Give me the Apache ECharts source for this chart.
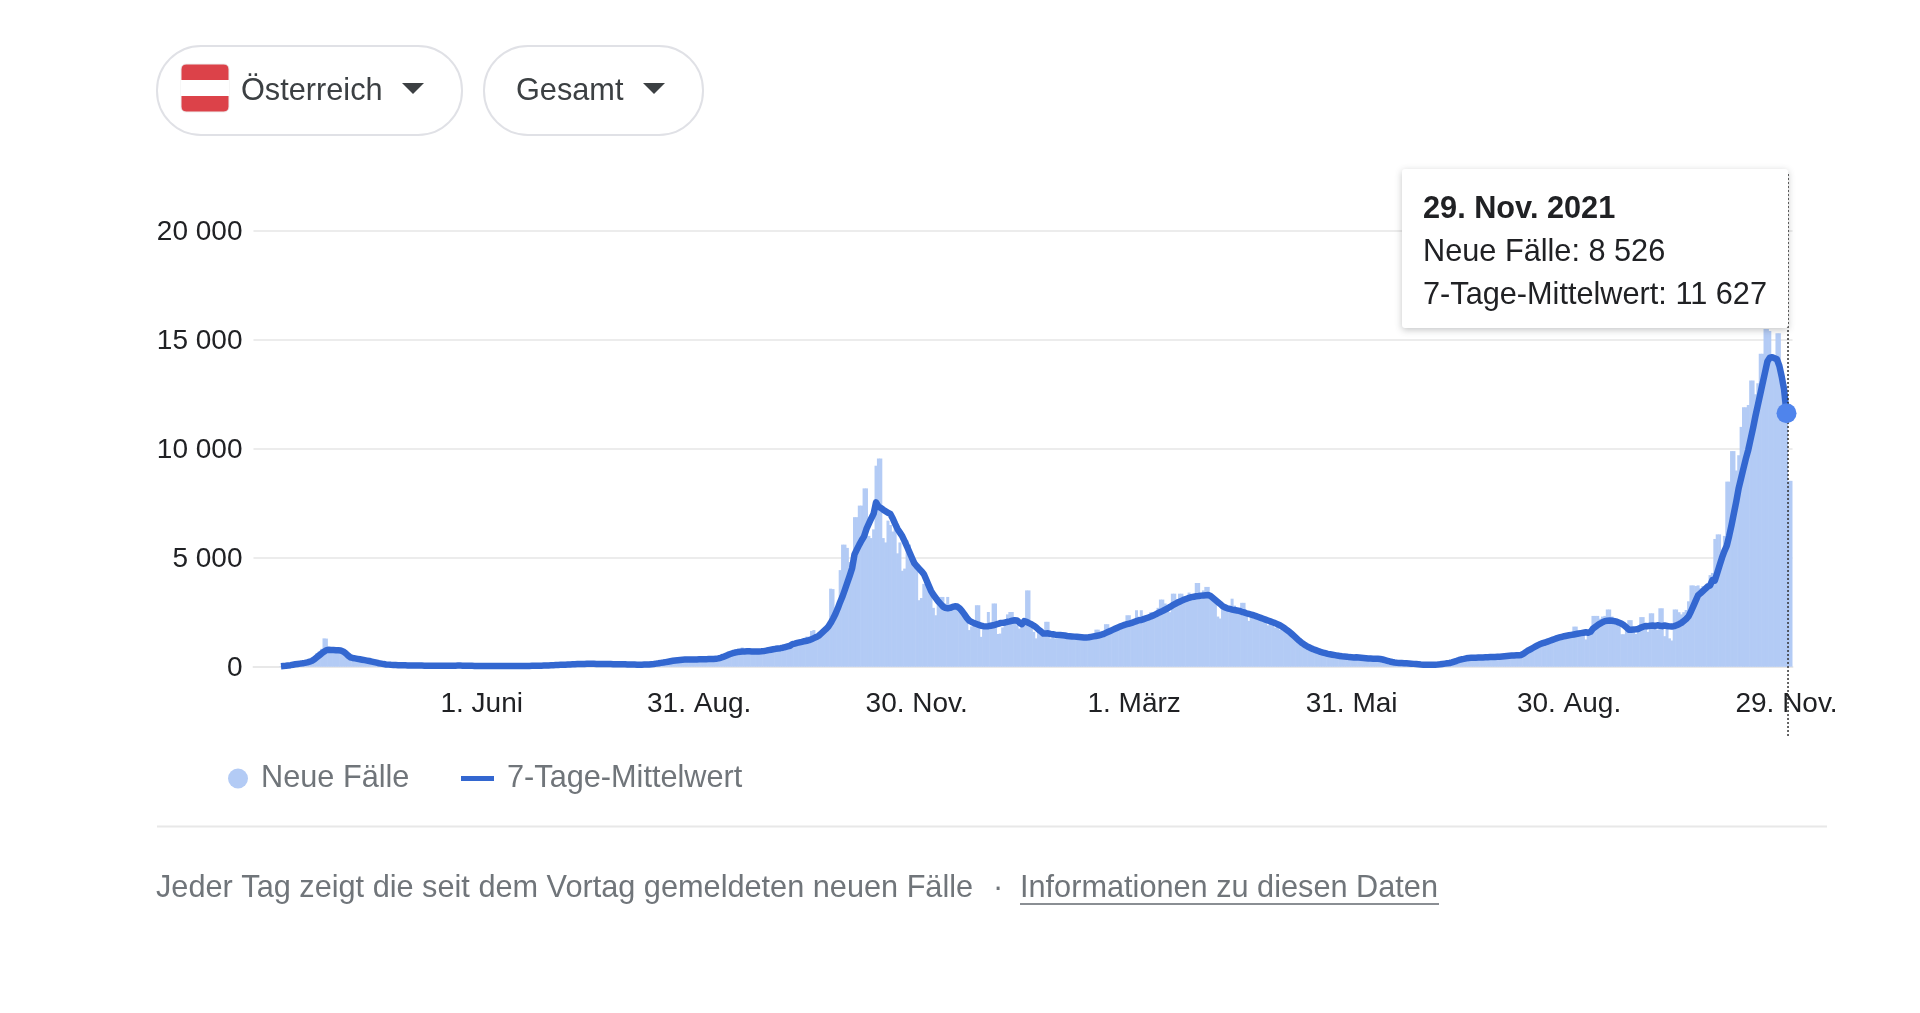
<!DOCTYPE html>
<html lang="de">
<head>
<meta charset="utf-8">
<title>Neue Fälle Österreich</title>
<script src="https://cdn.jsdelivr.net/npm/echarts@6/dist/echarts.min.js"></script>
<style>
html, body { margin: 0; padding: 0; background: #fff; }
#chart { width: 1920px; height: 1013px; }
</style>
</head>
<body>
<div id="chart"></div>
<script>
var firstDay = Date.UTC(2020, 1, 27);
var dayCount = 644;
var leadDays = 11; // Tage links vor dem ersten Datenpunkt

var tickDates = ['2020-06-01', '2020-08-31', '2020-11-30', '2021-03-01', '2021-05-31', '2021-08-30', '2021-11-29'];
var tickLabels = ['1. Juni', '31. Aug.', '30. Nov.', '1. März', '31. Mai', '30. Aug.', '29. Nov.'];
var yTicks = ['0', '5 000', '10 000', '15 000', '20 000'];

var tooltipDate = '29. Nov. 2021';
var tooltipNeue = '8 526';
var tooltipMittel = '11 627';

var neueFaelle = [
    20,30,50,60,80,100,110,130,150,180,
    190,210,250,320,480,620,700,820,1300,1290,
    830,780,700,840,790,620,560,470,400,350,
    420,360,300,250,330,280,240,200,160,190,
    130,100,90,110,80,60,90,70,60,55,
    75,50,65,45,55,70,40,60,45,55,
    40,55,35,50,30,45,35,40,60,35,
    50,65,30,45,60,55,40,35,30,45,
    30,25,40,30,25,35,20,40,45,30,
    20,30,35,25,30,40,20,25,35,30,
    25,40,30,45,35,30,50,45,40,55,
    45,60,65,70,55,95,85,75,110,90,
    120,95,140,100,130,110,135,125,150,110,
    120,140,130,105,135,125,110,130,115,120,
    125,105,100,120,110,95,115,90,105,100,
    85,105,95,110,120,130,110,160,170,190,
    200,220,210,260,290,270,320,300,340,310,
    350,320,340,330,360,330,350,340,370,345,
    360,340,380,370,430,480,480,600,540,650,
    700,760,680,880,670,720,700,730,680,740,
    690,730,720,780,800,760,850,820,900,870,
    880,950,900,1000,1080,1030,1120,1100,1180,1140,
    1380,1180,1640,1680,1350,1500,1560,1700,1700,1960,
    3580,3560,2620,2800,4430,5600,5600,5450,4800,4900,
    6860,6860,7390,7390,8180,8180,6000,5900,6300,9220,
    9550,9550,5900,5700,6700,6500,6200,6400,5200,5700,
    4400,4500,5790,5600,5000,4900,4500,3050,3150,3800,
    3800,3500,3350,2700,2360,2900,3200,3200,2900,3200,
    2750,2800,2850,2600,2700,2400,2250,2300,1680,1850,
    2100,2820,2820,1370,1900,1800,2510,1950,2900,2900,
    1500,1520,1800,2100,2400,2510,2510,2200,1900,1750,
    2000,1950,3500,3500,1800,1600,1300,1600,1500,1450,
    2060,2060,1300,1600,1300,1500,1400,1450,1380,1500,
    1350,1420,1300,1380,1420,1300,1360,1400,1320,1380,
    1500,1700,1700,1500,1550,1950,1950,1700,1800,1650,
    1850,1900,1950,2000,2360,2360,2100,2200,2590,2300,
    2590,2100,2350,2350,2500,2400,2300,2700,3080,3080,
    2900,2800,2500,3350,3350,3100,3350,3350,3200,3100,
    3400,3200,3200,3840,3840,3200,3500,3660,3660,3300,
    3200,3000,2300,2210,2900,2750,2600,2500,3120,2800,
    2500,2700,2930,2930,2300,2100,2400,2300,2250,2300,
    2150,2200,2100,1900,2050,2000,1800,1950,1700,1850,
    1700,1600,1500,1400,1350,1200,1150,1000,1050,900,
    900,800,850,700,750,650,700,600,650,560,
    560,520,500,480,520,450,480,430,400,450,
    430,460,400,430,380,420,370,390,340,380,
    340,300,320,260,250,200,210,170,180,150,
    170,160,150,120,140,110,120,90,105,85,
    95,90,85,100,95,120,115,150,170,180,
    220,230,280,300,380,340,400,380,420,400,
    430,400,450,410,440,430,450,480,420,470,
    470,450,500,480,520,490,530,500,540,560,
    640,700,770,790,880,920,1000,1050,1100,1130,
    1180,1180,1280,1270,1320,1380,1350,1500,1400,1550,
    1480,1840,1840,1600,1500,1550,1250,1600,1700,2330,
    2330,2330,2200,2300,2330,2625,2625,2300,2000,2100,
    1900,1490,1490,1700,2135,2135,1700,1500,1900,2275,
    2275,1800,1600,2450,2450,1750,1700,2680,2680,1400,
    1900,1300,1200,2625,2625,2500,2400,2500,2600,3000,
    3730,3730,3700,3730,3600,3700,3500,3800,4200,4300,
    5860,6070,6070,5000,6000,8490,8490,9890,9890,9000,
    9700,11000,11900,11900,12000,13125,13125,12500,13000,14350,
    14350,15490,15490,15400,14300,14200,15300,15300,12690,12500,
    12000,8526,8526
];

var mittelwert = [
    20,30,40,55,70,90,110,125,140,155,
    175,200,230,270,340,430,520,610,690,760,
    775,770,765,760,755,745,700,620,520,430,
    400,380,360,340,320,300,280,260,235,210,
    185,160,140,120,105,95,85,80,75,70,
    68,65,62,60,58,55,55,52,50,50,
    48,48,45,45,42,42,40,40,42,42,
    45,45,48,48,50,50,48,45,42,40,
    38,35,35,32,30,30,30,32,35,35,
    28,28,30,30,30,28,28,30,30,30,
    30,32,32,35,35,38,40,42,45,48,
    52,55,60,65,70,75,80,85,90,95,
    100,105,110,115,120,120,125,125,130,130,
    130,130,125,125,125,125,120,120,120,115,
    115,115,110,110,110,105,105,100,100,95,
    95,95,100,100,105,115,125,140,155,175,
    190,210,230,250,270,285,300,310,320,325,
    330,330,330,335,335,340,340,345,345,350,
    355,355,360,380,410,450,495,540,580,620,
    650,670,685,695,700,705,705,700,700,695,
    700,705,715,735,760,780,800,820,835,850,
    870,900,930,960,1035,1060,1090,1115,1140,1170,
    1190,1220,1260,1310,1360,1420,1520,1620,1720,1830,
    2000,2200,2420,2680,2970,3230,3540,3860,4180,4520,
    5150,5380,5600,5800,5980,6320,6560,6800,7020,7540,
    7350,7280,7200,7130,7060,7010,6800,6550,6320,6150,
    5980,5750,5500,5250,5000,4750,4620,4500,4380,4250,
    4000,3740,3480,3300,3150,3000,2880,2760,2700,2680,
    2700,2740,2770,2760,2680,2550,2400,2240,2110,2050,
    2000,1960,1920,1880,1860,1850,1860,1880,1900,1930,
    1960,2000,2010,2030,2060,2080,2110,2130,2120,2020,
    1950,2090,2060,2000,1950,1880,1800,1700,1620,1520,
    1520,1530,1500,1490,1470,1460,1450,1440,1430,1410,
    1400,1390,1380,1370,1360,1350,1340,1340,1350,1370,
    1390,1410,1430,1460,1490,1540,1590,1640,1690,1740,
    1790,1840,1880,1920,1950,1980,2010,2050,2090,2130,
    2140,2180,2220,2260,2300,2350,2400,2460,2510,2560,
    2620,2680,2740,2810,2870,2930,2980,3030,3080,3120,
    3160,3190,3210,3230,3240,3260,3270,3280,3290,3240,
    3150,3060,2970,2880,2780,2720,2680,2650,2620,2600,
    2580,2560,2520,2490,2450,2420,2390,2360,2320,2280,
    2240,2200,2160,2120,2080,2040,2000,1950,1900,1830,
    1760,1680,1600,1500,1400,1300,1200,1110,1030,960,
    900,850,800,760,720,680,650,620,590,570,
    550,530,510,495,480,470,460,440,430,420,
    430,420,410,400,390,380,375,370,365,360,
    350,330,300,270,240,215,195,180,170,165,
    160,155,150,140,130,120,110,100,95,90,
    85,85,90,95,100,110,125,140,155,170,
    200,235,270,310,340,360,385,400,405,410,
    415,420,420,425,430,435,440,445,450,455,
    460,470,480,490,500,510,515,520,525,540,
    600,680,750,810,870,930,990,1040,1080,1110,
    1150,1190,1230,1270,1310,1340,1370,1400,1420,1440,
    1460,1480,1500,1520,1540,1560,1580,1560,1600,1750,
    1830,1910,1980,2040,2090,2110,2120,2110,2090,2065,
    2020,1970,1900,1800,1700,1700,1710,1715,1730,1790,
    1830,1870,1860,1880,1890,1870,1900,1880,1860,1890,
    1870,1850,1840,1860,1900,1950,2010,2100,2190,2310,
    2530,2780,3030,3280,3370,3470,3570,3675,3720,3980,
    3950,4300,4650,5000,5300,5550,6000,6500,7050,7600,
    8200,8650,9100,9550,9950,10450,10950,11500,12000,12500,
    13000,13500,14000,14180,14200,14150,14100,13800,13300,12700,
    11627
];

var fontName = '"Liberation Sans", Arial, sans-serif';

// Kategorien pro Tag
var days = [];
for (var d = 0; d < dayCount; d++) {
    days.push(new Date(firstDay + d * 86400000).toISOString().slice(0, 10));
}
var lead = [];
for (var i = 0; i < leadDays; i++) {
    lead.push(null);
}
var lastIndex = days.indexOf(tickDates[tickDates.length - 1]);

function isTick(index) {
    return tickDates.indexOf(days[index]) >= 0;
}

function pill(x, width) {
    return {
        type: 'rect',
        shape: { x: x, y: 46, width: width, height: 89, r: 44 },
        style: { fill: '#fff', stroke: '#e0e1e6', lineWidth: 2 }
    };
}

function caret(x) {
    return {
        type: 'polygon',
        shape: { points: [[x, 83], [x + 22, 83], [x + 11, 94]] },
        style: { fill: '#3c4043' }
    };
}

function label(text, x, y, color) {
    return {
        type: 'text',
        style: { text: text, x: x, y: y, fill: color, font: '30.7px ' + fontName, textVerticalAlign: 'middle' }
    };
}

var chrome = [
    pill(157, 305),
    pill(484, 219),
    { type: 'rect', shape: { x: 181, y: 64, width: 48, height: 48, r: 5 }, style: { fill: '#dc4249', stroke: '#eeeeee', lineWidth: 1 } },
    { type: 'rect', shape: { x: 181, y: 80, width: 48, height: 16 }, style: { fill: '#fff' } },
    label('Österreich', 241, 92, '#3c4043'),
    caret(402),
    label('Gesamt', 516, 92, '#3c4043'),
    caret(643),
    { type: 'line', shape: { x1: 157, y1: 826.5, x2: 1827, y2: 826.5 }, style: { stroke: '#e8e8e8', lineWidth: 2 } },
    label('Jeder Tag zeigt die seit dem Vortag gemeldeten neuen Fälle', 156, 889, '#70757a'),
    label('·', 993, 889, '#70757a'),
    label('Informationen zu diesen Daten', 1020, 889, '#70757a'),
    { type: 'line', shape: { x1: 1020, y1: 904, x2: 1439, y2: 904 }, style: { stroke: '#8a8e93', lineWidth: 2 } }
];

var chart = echarts.init(document.getElementById('chart'));

var option = {
    animation: false,
    backgroundColor: '#fff',
    textStyle: { fontFamily: fontName },
    grid: { left: 253.5, top: 230.7, width: 1539, height: 436 },
    legend: [
        {
            data: ['Neue Fälle'],
            icon: 'circle',
            left: 223,
            top: 758,
            itemWidth: 20,
            itemHeight: 20,
            itemGap: 0,
            textStyle: { color: '#70757a', fontSize: 30.7, fontFamily: fontName, padding: [0, 0, 0, 8] },
            selectedMode: false
        },
        {
            data: ['7-Tage-Mittelwert'],
            icon: 'rect',
            left: 456,
            top: 758,
            itemWidth: 33,
            itemHeight: 5,
            itemGap: 0,
            textStyle: { color: '#70757a', fontSize: 30.7, fontFamily: fontName, padding: [0, 0, 0, 8] },
            selectedMode: false
        }
    ],
    tooltip: {
        trigger: 'axis',
        alwaysShowContent: true,
        transitionDuration: 0,
        axisPointer: { type: 'none' },
        position: [1402, 169],
        padding: [17, 20, 19, 21],
        backgroundColor: '#fff',
        borderWidth: 0,
        borderRadius: 3,
        extraCssText: 'box-shadow:0 2px 7px rgba(60,64,67,.3);width:345px;height:123px;box-sizing:content-box;',
        textStyle: { color: '#202124', fontSize: 30.7, fontFamily: fontName },
        formatter: function () {
            return '<div style="line-height:43px;white-space:nowrap"><b>' + tooltipDate + '</b><br/>' +
                'Neue Fälle: ' + tooltipNeue + '<br/>' +
                '7-Tage-Mittelwert: ' + tooltipMittel + '</div>';
        }
    },
    xAxis: {
        type: 'category',
        data: days,
        boundaryGap: true,
        axisLine: { lineStyle: { color: '#e8e8e8', width: 2 } },
        axisTick: { alignWithLabel: true, interval: isTick, length: 20, lineStyle: { color: '#e8e8e8', width: 2 } },
        axisLabel: {
            interval: isTick,
            margin: 24,
            color: '#202124',
            fontSize: 28,
            fontFamily: fontName,
            formatter: function (value) {
                return tickLabels[tickDates.indexOf(value)];
            }
        },
        splitLine: { show: false }
    },
    yAxis: {
        type: 'value',
        min: 0,
        max: 20000,
        interval: 5000,
        axisLine: { show: false },
        axisTick: { show: false },
        axisLabel: {
            margin: 11,
            color: '#202124',
            fontSize: 28,
            fontFamily: fontName,
            verticalAlign: 'top',
            lineHeight: 3,
            formatter: function (value) {
                return yTicks[value / 5000];
            }
        },
        splitLine: { lineStyle: { color: '#ececec', width: 2 } }
    },
    series: [
        {
            name: 'Neue Fälle',
            type: 'bar',
            data: lead.concat(neueFaelle),
            barWidth: 3,
            itemStyle: { color: '#b3cbf5' },
            emphasis: { disabled: true }
        },
        {
            name: '7-Tage-Mittelwert',
            type: 'line',
            data: lead.concat(mittelwert),
            showSymbol: false,
            symbol: 'none',
            lineStyle: { color: '#3367d0', width: 6.5, join: 'round' },
            itemStyle: { color: '#3367d0' },
            emphasis: { disabled: true },
            markPoint: {
                silent: true,
                z: 30,
                symbol: 'circle',
                symbolSize: 20,
                itemStyle: { color: '#4f84ec' },
                label: { show: false },
                data: [{ coord: [lastIndex, mittelwert[mittelwert.length - 1]] }]
            }
        }
    ],
    graphic: { elements: chrome }
};

chart.setOption(option);

// Cursorlinie steht über die Achse hinaus, deshalb als Grafik
var cursorX = chart.convertToPixel({ xAxisIndex: 0 }, lastIndex) + 1.5;
chrome.push({
    type: 'line',
    z: 20,
    shape: { x1: cursorX, y1: 174, x2: cursorX, y2: 737 },
    style: { stroke: '#333', lineWidth: 1.5, lineDash: [2, 2] }
});
chart.setOption({ graphic: { elements: chrome } });

chart.dispatchAction({ type: 'showTip', seriesIndex: 1, dataIndex: lastIndex });
</script>
</body>
</html>
